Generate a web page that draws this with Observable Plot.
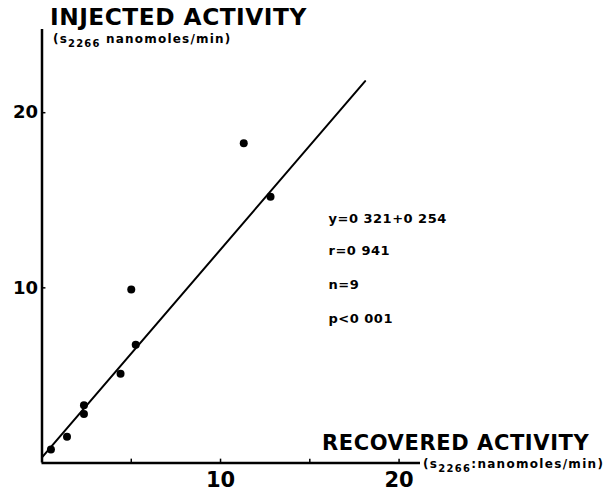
<!DOCTYPE html>
<html><head><meta charset="utf-8">
<script src="https://cdn.jsdelivr.net/npm/d3@7"></script>
<script src="https://cdn.jsdelivr.net/npm/@observablehq/plot@0.6"></script>
<style>html,body{margin:0;padding:0;background:#fff}#chart{width:606px;height:491px}</style>
</head><body><div id="chart"></div>
<script>
// Data
const recovered = [0.5, 1.4, 2.35, 2.35, 4.4, 5.25, 5.0, 11.3, 12.8];
const injected  = [0.77, 1.5, 3.3, 2.8, 5.1, 6.75, 9.9, 18.25, 15.2];
const fitX = [0, 18.1];
const fitY = [0.32, 21.8];
const xTickValues = [5, 10, 15, 20];
const xTickLabels = [10, 20];
const yTickValues = [10, 20];
const statLines = ["y=0 321+0 254", "r=0 941", "n=9", "p<0 001"];
const statY = [13.96, 12.13, 10.19, 8.25];
const statX = [16.05, 16.05, 16.05, 16.05];
const yTitle = "INJECTED ACTIVITY";
const xTitle = "RECOVERED ACTIVITY";

const points = recovered.map((x, i) => ({recovered: x, injected: injected[i]}));
const fit = fitX.map((x, i) => ({x, y: fitY[i]}));
const stats = statLines.map((t, i) => ({t, x: statX[i], y: statY[i]}));

const plot = Plot.plot({
  width: 606, height: 491,
  marginLeft: 41.5, marginRight: 186, marginTop: 29, marginBottom: 28.5,
  x: {domain: [0, 21.2], label: null},
  y: {domain: [0, 24.75], label: null},
  style: {background: "#fff", fontFamily: "DejaVu Sans", color: "#000"},
  marks: [
    Plot.ruleX([0], {stroke: "#000", strokeWidth: 2.5}),
    Plot.ruleY([0], {stroke: "#000", strokeWidth: 2.5}),
    Plot.ruleX(xTickValues, {x: d => d, y1: 0, y2: 0.22, stroke: "#000", strokeWidth: 1.5}),
    Plot.ruleY(yTickValues, {y: d => d, x1: 0, x2: 0.22, stroke: "#000", strokeWidth: 1.5}),
    Plot.axisX({ticks: xTickLabels, tickSize: 0, tickPadding: 9, fontSize: 21, fontWeight: "bold", label: null, tickFormat: d => String(d)}),
    Plot.axisY({ticks: yTickValues, tickSize: 0, tickPadding: 4, fontSize: 18, fontWeight: "bold", label: null, tickFormat: d => String(d)}),
    Plot.line(fit, {x: "x", y: "y", stroke: "#000", strokeWidth: 2}),
    Plot.dot(points, {x: "recovered", y: "injected", r: 4, fill: "#000", stroke: "none"}),
    Plot.text(stats, {x: "x", y: "y", text: "t", textAnchor: "start", lineAnchor: "middle", fontSize: 13, fontWeight: "bold", fill: "#000"})
  ]
});
document.getElementById("chart").append(plot);

const svg = d3.select(plot);
svg.selectAll("g[aria-label='text'] text").attr("letter-spacing", 0.5);
svg.append("text").attr("x", 50).attr("y", 25).attr("text-anchor", "start")
  .attr("font-size", 23.3).attr("font-weight", "bold").attr("letter-spacing", 0.5)
  .attr("fill", "#000").text(yTitle);
const sub = svg.append("text").attr("x", 53).attr("y", 43).attr("text-anchor", "start")
  .attr("font-size", 12).attr("font-weight", "bold").attr("letter-spacing", 1.2).attr("fill", "#000");
sub.append("tspan").text("(s");
sub.append("tspan").attr("font-size", 10).attr("dy", 4).text("2266");
sub.append("tspan").attr("dy", -4).text(" nanomoles/min)");

svg.append("text").attr("x", 322).attr("y", 450).attr("text-anchor", "start")
  .attr("font-size", 21).attr("font-weight", "bold").attr("letter-spacing", 0.6)
  .attr("fill", "#000").text(xTitle);
const sub2 = svg.append("text").attr("x", 423).attr("y", 468).attr("text-anchor", "start")
  .attr("font-size", 12).attr("font-weight", "bold").attr("letter-spacing", 1.3).attr("fill", "#000");
sub2.append("tspan").text("(s");
sub2.append("tspan").attr("font-size", 10).attr("dy", 4).text("2266");
sub2.append("tspan").attr("dy", -4).text(":nanomoles/min)");
</script>
</body></html>
